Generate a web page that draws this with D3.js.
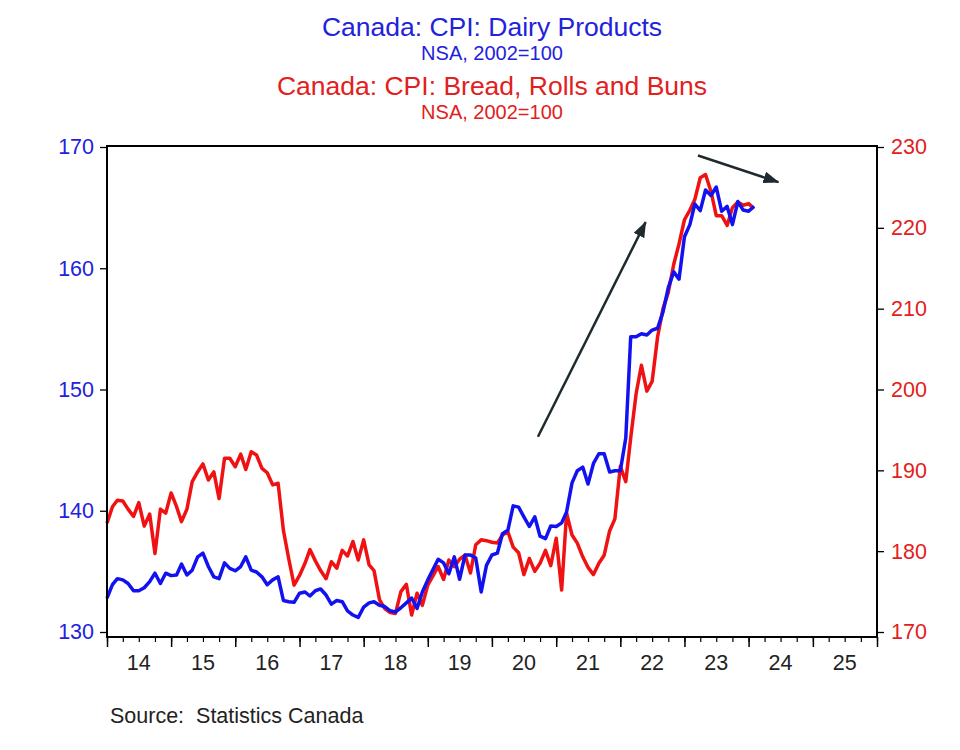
<!DOCTYPE html>
<html><head><meta charset="utf-8">
<script src="https://cdn.jsdelivr.net/npm/d3@7"></script>
<style>
body{margin:0;background:#fff}
svg text{font-family:"Liberation Sans",Arial,sans-serif}
</style>
</head><body>
<svg id="chart" width="960" height="750"></svg>
<script>
// ---- data ----
const startMonth = "2014-01";
const dairy = [
 132.8,133.9,134.4,134.3,134.0,133.4,133.4,133.65,134.15,134.85,
 134.0,134.85,134.65,134.7,135.6,134.7,135.1,136.2,136.5,135.4,
 134.55,134.4,135.7,135.25,135.05,135.4,136.2,135.1,134.95,134.55,
 133.9,134.3,134.55,132.6,132.5,132.45,133.2,133.3,132.97,133.4,
 133.55,133.05,132.3,132.6,132.5,131.75,131.4,131.2,132.05,132.4,
 132.5,132.2,132.1,131.75,131.65,132.0,132.4,132.8,131.95,133.3,
 134.3,135.2,136.0,135.7,134.8,136.2,134.35,136.35,136.35,136.1,
 133.3,135.5,136.35,136.5,138.1,138.4,140.4,140.3,139.5,138.7,
 139.5,137.9,137.7,138.75,138.7,139.0,139.9,142.3,143.3,143.6,
 142.2,143.9,144.7,144.7,143.2,143.3,143.3,146.0,154.35,154.35,
 154.6,154.5,154.9,155.05,156.4,158.4,159.7,159.1,162.6,163.6,
 165.3,164.75,166.45,166.0,166.7,164.7,165.1,163.6,165.5,164.8,
 164.7,165.1
];
const bread = [
 183.45,185.5,186.3,186.2,185.2,184.3,186.0,183.1,184.6,179.7,
 185.2,184.7,187.2,185.5,183.65,185.2,188.6,189.8,190.8,188.8,
 189.8,186.5,191.5,191.5,190.45,192.0,190.1,192.3,191.9,190.25,
 189.7,188.2,188.4,182.6,179.0,175.8,177.0,178.5,180.2,178.8,
 177.6,176.6,178.7,177.9,180.1,179.4,181.2,178.9,181.4,178.3,
 177.6,174.0,172.9,172.4,172.3,175.0,175.9,172.1,174.8,173.3,
 175.8,177.0,178.1,176.5,178.9,178.1,179.0,179.5,177.3,180.8,
 181.4,181.3,181.1,181.0,182.0,182.4,180.5,179.8,177.1,179.1,
 177.5,178.5,180.1,178.2,181.6,175.2,184.7,182.0,181.0,179.3,
 178.0,177.1,178.5,179.5,182.5,184.0,190.5,188.6,194.0,199.5,
 203.0,199.8,201.0,206.5,210.0,212.0,215.5,218.0,221.0,222.2,
 223.5,226.2,226.6,224.5,221.5,221.5,220.3,222.5,223.2,222.8,
 223.0,222.4
];
const yearLabels = ["14","15","16","17","18","19","20","21","22","23","24","25"];
const leftTicks = [130,140,150,160,170];
const rightTicks = [170,180,190,200,210,220,230];
const titleLines = [
  {text:"Canada: CPI: Dairy Products", kind:"main", series:"dairy"},
  {text:"NSA, 2002=100", kind:"sub", series:"dairy"},
  {text:"Canada: CPI: Bread, Rolls and Buns", kind:"main", series:"bread"},
  {text:"NSA, 2002=100", kind:"sub", series:"bread"}
];
const sourceText = "Source:  Statistics Canada";
// trend arrows, in (date, left-axis value) units
const arrows = [
  {from:["2020-09-19",146.1], to:["2022-05-25",163.8]},
  {from:["2023-03-19",169.3], to:["2024-06-19",167.1]}
];

// ---- styles / layout ----
const BLUE = "#1212f0", RED = "#f01212", TBLUE = "#2222dc", TRED = "#e22020";
const L = 107, R = 877, T = 147, B = 632, FRAME_T = 146, FRAME_B = 637;
const svg = d3.select("#chart");
const parse = d3.timeParse("%Y-%m-%d");
const start = d3.timeParse("%Y-%m")(startMonth);
const dates = dairy.map((_, i) => d3.timeMonth.offset(start, i));

const x = d3.scaleTime().domain([new Date(2014,0,1), new Date(2026,0,1)]).range([L, R]);
const yL = d3.scaleLinear().domain([130,170]).range([B, T]);
const yR = d3.scaleLinear().domain([170,230]).range([B, T]);

// titles
const titleY = [36, 60, 95, 119];
svg.selectAll("text.title").data(titleLines).join("text")
  .attr("class","title")
  .attr("x", (L+R)/2).attr("y", (d,i)=>titleY[i])
  .attr("text-anchor","middle")
  .attr("font-size", d => d.kind==="main" ? 26.5 : 20)
  .attr("fill", d => d.series==="dairy" ? TBLUE : TRED)
  .text(d => d.text);

// lines
const lineL = d3.line().x((d,i)=>x(dates[i])).y(d=>yL(d));
const lineR = d3.line().x((d,i)=>x(dates[i])).y(d=>yR(d));
svg.append("path").datum(bread).attr("d", lineR)
  .attr("fill","none").attr("stroke",RED).attr("stroke-width",3.5).attr("stroke-linejoin","round");
svg.append("path").datum(dairy).attr("d", lineL)
  .attr("fill","none").attr("stroke",BLUE).attr("stroke-width",3.5).attr("stroke-linejoin","round");

// frame
svg.append("rect").attr("x",L).attr("y",FRAME_T).attr("width",R-L).attr("height",FRAME_B-FRAME_T)
  .attr("fill","none").attr("stroke","#000").attr("stroke-width",2);

// left axis
const gl = svg.append("g").attr("transform",`translate(${L},0)`)
  .call(d3.axisLeft(yL).tickValues(leftTicks).tickSize(7).tickPadding(6).tickFormat(d3.format("d")));
gl.select(".domain").remove();
gl.selectAll("line").attr("stroke","#000").attr("stroke-width",1.3);
gl.selectAll("text").attr("fill",TBLUE).attr("font-size",21.5);

// right axis
const gr = svg.append("g").attr("transform",`translate(${R},0)`)
  .call(d3.axisRight(yR).tickValues(rightTicks).tickSize(7).tickPadding(7).tickFormat(d3.format("d")));
gr.select(".domain").remove();
gr.selectAll("line").attr("stroke","#000").attr("stroke-width",1.3);
gr.selectAll("text").attr("fill",TRED).attr("font-size",21.5);

// bottom axis: year ticks, quarter minor ticks
const years = d3.timeYear.range(new Date(2014,0,1), new Date(2026,0,2));
const quarters = d3.timeMonth.every(3).range(new Date(2014,0,1), new Date(2026,0,2));
const gbMinor = svg.append("g").attr("transform",`translate(0,${FRAME_B})`)
  .call(d3.axisBottom(x).tickValues(quarters).tickSize(5).tickFormat(""));
gbMinor.select(".domain").remove();
gbMinor.selectAll("line").attr("stroke","#000").attr("stroke-width",1.2);
const gb = svg.append("g").attr("transform",`translate(0,${FRAME_B})`)
  .call(d3.axisBottom(x).tickValues(years).tickSize(10).tickFormat(""));
gb.select(".domain").remove();
gb.selectAll("line").attr("stroke","#000").attr("stroke-width",1.5);
svg.selectAll("text.xlab").data(yearLabels).join("text")
  .attr("class","xlab")
  .attr("x", (d,i)=>x(new Date(2014+i,6,1)))
  .attr("y", 670)
  .attr("text-anchor","middle").attr("font-size",21.5).attr("fill","#222")
  .text(d=>d);

// arrows
const defs = svg.append("defs");
defs.append("marker").attr("id","ah").attr("markerUnits","userSpaceOnUse")
  .attr("viewBox","0 0 16 12").attr("refX",15).attr("refY",6)
  .attr("markerWidth",16).attr("markerHeight",12).attr("orient","auto")
  .append("path").attr("d","M0,0 L16,6 L0,12 Z").attr("fill","#1e2a30");
svg.selectAll("line.arrow").data(arrows).join("line")
  .attr("class","arrow")
  .attr("x1", d=>x(parse(d.from[0]))).attr("y1", d=>yL(d.from[1]))
  .attr("x2", d=>x(parse(d.to[0]))).attr("y2", d=>yL(d.to[1]))
  .attr("stroke","#1e2a30").attr("stroke-width",2.5)
  .attr("marker-end","url(#ah)");

// source
svg.append("text").attr("x",110).attr("y",723).attr("font-size",21.5).attr("fill","#222")
  .attr("xml:space","preserve").style("white-space","pre").text(sourceText);
</script>
</body></html>
